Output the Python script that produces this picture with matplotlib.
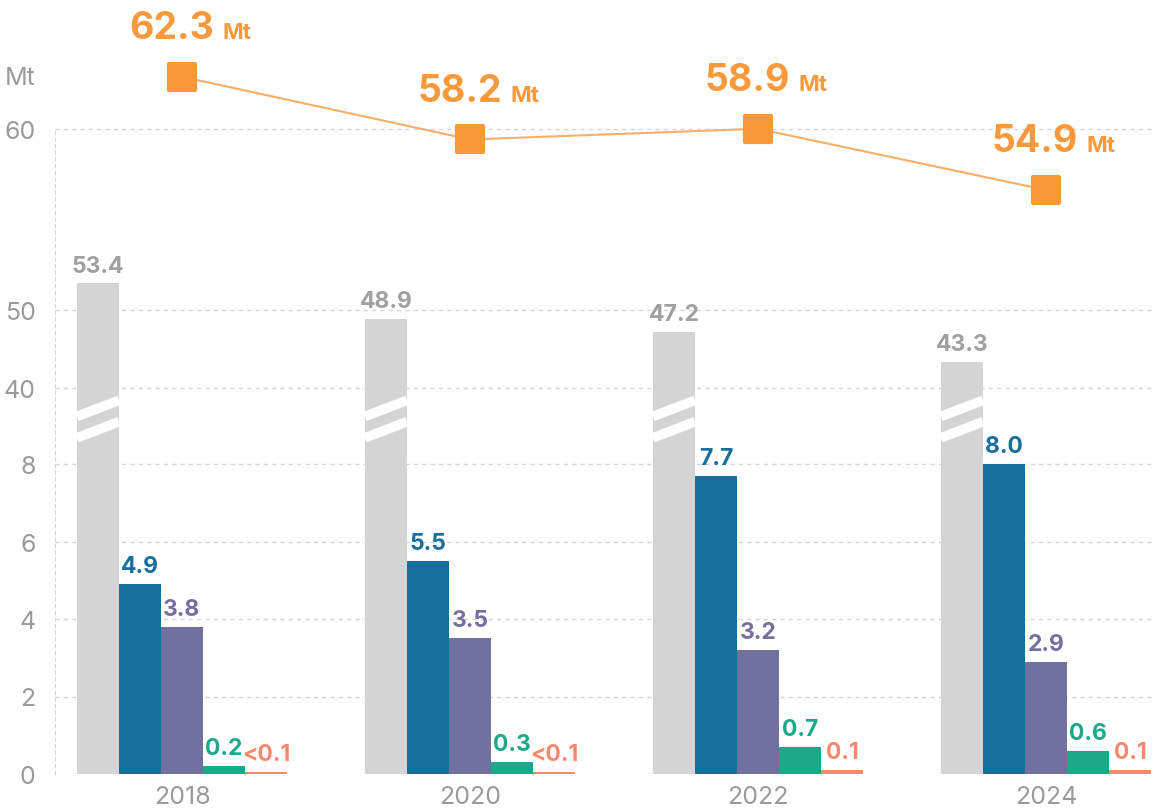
import numpy as np
import matplotlib.pyplot as plt
from matplotlib.markers import MarkerStyle

plt.rcParams['font.family'] = ['Inter', 'DejaVu Sans']

years = ["2018", "2020", "2022", "2024"]
total = [62.3, 58.2, 58.9, 54.9]
gray_vals = [53.4, 48.9, 47.2, 43.3]
blue_vals = [4.9, 5.5, 7.7, 8.0]
purple_vals = [3.8, 3.5, 3.2, 2.9]
green_vals = [0.2, 0.3, 0.7, 0.6]
red_vals = [0.05, 0.05, 0.1, 0.1]
red_labels = ["<0.1", "<0.1", "0.1", "0.1"]
yticks = [0, 2, 4, 6, 8, 40, 50, 60]

GRAY = "#d4d4d4"
GRAY_TXT = "#a0a0a0"
BLUE = "#176f9d"
PURPLE = "#72709e"
GREEN = "#1ba98a"
RED = "#f4896f"
ORANGE = "#f89a3c"
ORANGE_LINE = "#f9ae68"
TICK = "#9a9a9a"
GRID = "#d6d6d6"

# broken axis: value -> pixel height above the baseline
brk_v = [-10, 0, 8, 40, 50, 55, 60, 200]
brk_h = [-387.5, 0, 310, 386, 464, 503, 645, 4621]


def fwd(v):
    return np.interp(v, brk_v, brk_h)


def inv(h):
    return np.interp(h, brk_h, brk_v)


W, H = 1155, 812
fig = plt.figure(figsize=(W / 100, H / 100), dpi=100)
left_px, right_px, base_px, top_px = 55, 1152, 775, 10
ax = fig.add_axes([left_px / W, (H - base_px) / H,
                   (right_px - left_px) / W, (base_px - top_px) / H])
ax_h = base_px - top_px

ax.set_yscale('function', functions=(fwd, inv))
ax.set_ylim(0, inv(ax_h))

x = np.arange(len(years))
w = 0.146
ax.set_xlim((left_px - 182) / 288, (right_px - 182) / 288)

series = [(gray_vals, GRAY, GRAY_TXT, [f"{v:.1f}" for v in gray_vals]),
          (blue_vals, BLUE, BLUE, [f"{v:.1f}" for v in blue_vals]),
          (purple_vals, PURPLE, PURPLE, [f"{v:.1f}" for v in purple_vals]),
          (green_vals, GREEN, GREEN, [f"{v:.1f}" for v in green_vals]),
          (red_vals, RED, RED, red_labels)]

for k, (vals, col, tcol, labs) in enumerate(series):
    xs = x + (k - 2) * w
    ax.bar(xs, vals, width=w, color=col, zorder=2)
    for xi, v, lab in zip(xs, vals, labs):
        ax.annotate(lab, (xi, v), xytext=(0, 5), textcoords='offset points',
                    ha='center', va='bottom', fontsize=16.5, fontweight='bold',
                    color=tcol, zorder=4)

# break marks on the grey bars
for xi in x - 2 * w:
    for lo in (19.0, 28.0):
        ax.plot([xi - w / 2, xi + w / 2], [lo, lo + 6.8], color='white',
                lw=7, solid_capstyle='butt', zorder=3)

ax.set_yticks(yticks)
ax.set_yticklabels([str(t) for t in yticks])
ax.set_xticks(x)
ax.set_xticklabels(years)
ax.tick_params(axis='both', length=0, colors=TICK, labelsize=18)
ax.tick_params(axis='y', pad=14)
ax.tick_params(axis='x', pad=8)
ax.grid(axis='y', color=GRID, linestyle=(0, (3, 3)), lw=1, zorder=0)
for s in ['top', 'right', 'bottom']:
    ax.spines[s].set_visible(False)
ax.spines['left'].set_color(GRID)
ax.spines['left'].set_linestyle((0, (3, 3)))
ax.spines['left'].set_bounds(0, 60)
ax.annotate("Mt", (0, 60), xycoords=('axes fraction', 'data'),
            xytext=(-14, 37), textcoords='offset points', ha='right',
            va='center', fontsize=18, color=TICK)

# total line on its own scale
ax2 = ax.twinx()
px_per = 15.3
ax2.set_ylim(58.575 - (base_px - 134.75) / px_per,
             58.575 + (ax_h - (base_px - 134.75)) / px_per)
ax2.axis('off')
ax2.plot(x, total, color=ORANGE_LINE, lw=1.5, zorder=3)
ax2.plot(x, total, ls='none', marker=MarkerStyle('s', joinstyle='round'),
         ms=19, mfc=ORANGE, mec=ORANGE, mew=3, zorder=4)
for xi, v in zip(x, total):
    ax2.annotate(f"{v:.1f}", (xi, v), xytext=(23, 28), textcoords='offset points',
                 ha='right', va='baseline', fontsize=27, fontweight='bold',
                 color=ORANGE)
    ax2.annotate("Mt", (xi, v), xytext=(29, 28), textcoords='offset points',
                 ha='left', va='baseline', fontsize=16, fontweight='bold',
                 color=ORANGE)

fig.savefig("out.png", dpi=100)
